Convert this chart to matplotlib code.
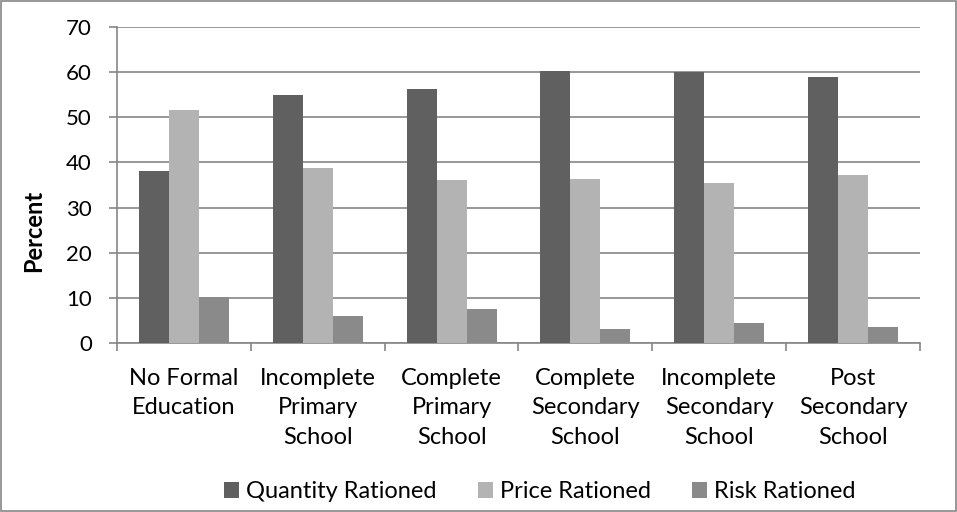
import numpy as np
import matplotlib.pyplot as plt
from matplotlib.patches import Rectangle

categories = ["No Formal\nEducation", "Incomplete\nPrimary\nSchool", "Complete\nPrimary\nSchool",
              "Complete\nSecondary\nSchool", "Incomplete\nSecondary\nSchool", "Post\nSecondary\nSchool"]
quantity = [38.0, 55.0, 56.2, 60.3, 60.0, 59.0]
price = [51.6, 38.7, 36.1, 36.4, 35.5, 37.2]
risk = [10.2, 6.0, 7.5, 3.0, 4.4, 3.5]

plt.rcParams['font.family'] = ['Lato', 'DejaVu Sans']

fig = plt.figure(figsize=(9.57, 5.12), dpi=100)
ax = fig.add_axes([117/957, 1 - 343/512, 803/957, 316/512])

x = np.arange(len(categories))
w = 0.224
ax.bar(x - w, quantity, w, color="#606060", label="Quantity Rationed", zorder=3)
ax.bar(x, price, w, color="#b3b3b3", label="Price Rationed", zorder=3)
ax.bar(x + w, risk, w, color="#8a8a8a", label="Risk Rationed", zorder=3)

ax.set_xlim(-0.5, len(categories) - 0.5)
ax.set_ylim(0, 70)
ax.set_yticks(range(0, 71, 10))
ax.yaxis.grid(True, color="#868686", linewidth=1.2, zorder=0)
ax.set_axisbelow(True)

# category boundaries carry the tick marks, labels sit at the centres
ax.set_xticks(np.arange(-0.5, len(categories), 1))
ax.set_xticklabels([])
ax.set_xticks(x, minor=True)
ax.set_xticklabels(categories, minor=True, fontsize=17, linespacing=1.5)
ax.tick_params(axis="x", which="major", length=6, color="#868686", width=1.2)
ax.tick_params(axis="x", which="minor", length=0, pad=18)
ax.tick_params(axis="y", length=6, color="#868686", width=1.2, labelsize=16, pad=12)

for s in ["top", "right"]:
    ax.spines[s].set_visible(False)
for s in ["left", "bottom"]:
    ax.spines[s].set_color("#868686")
    ax.spines[s].set_linewidth(1.2)

fig.text(33.5/957, 1 - 231/512, "Percent", rotation=90, ha="center", va="center",
         fontsize=17, fontweight="bold")

fig.legend(loc="center", bbox_to_anchor=(540/957, 1 - 491.5/512), ncol=3, frameon=False,
           fontsize=17, handlelength=0.64, handleheight=0.64, handletextpad=0.3,
           columnspacing=1.74, borderpad=0, borderaxespad=0)

fig.patches.append(Rectangle((0.001, 0.002), 0.998, 0.996, transform=fig.transFigure,
                             fill=False, edgecolor="#868686", linewidth=1.2))

fig.savefig("out.png", dpi=100)
